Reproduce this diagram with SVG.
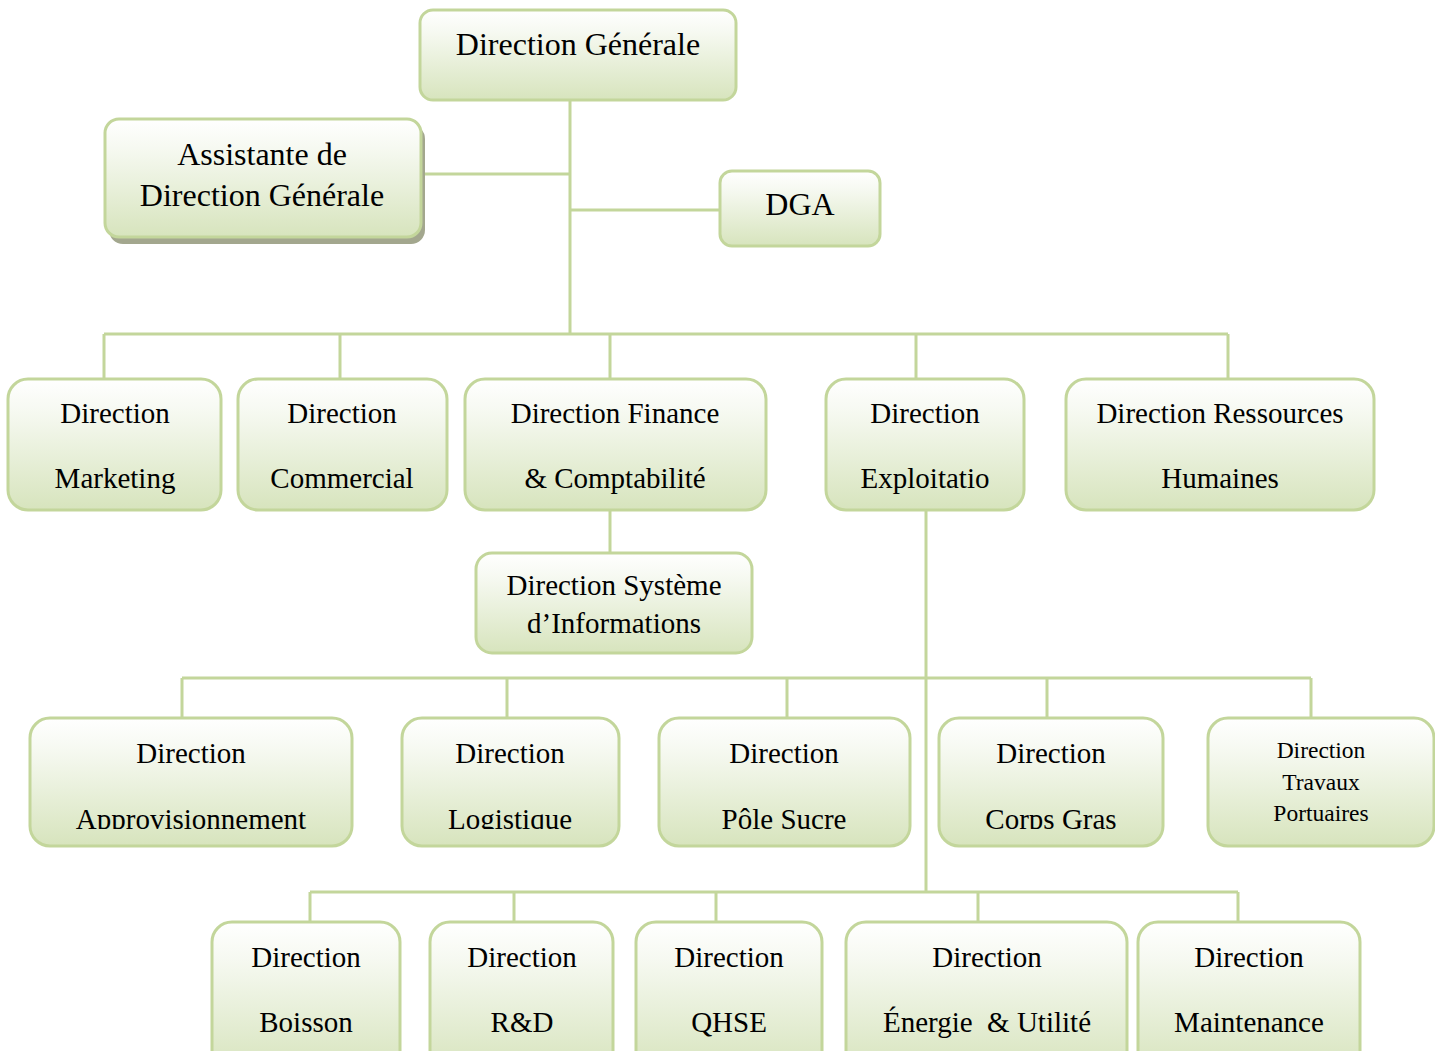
<svg xmlns="http://www.w3.org/2000/svg" width="1435" height="1051" viewBox="0 0 1435 1051">
<defs>
<linearGradient id="g" x1="0" y1="0" x2="0" y2="1">
<stop offset="0" stop-color="#ffffff"/>
<stop offset="0.25" stop-color="#f6f9f1"/>
<stop offset="1" stop-color="#d7e4bd"/>
</linearGradient>
<clipPath id="clip3"><rect x="0" y="700" width="1435" height="129"/></clipPath>
<style>
.box{fill:url(#g);stroke:#c3d69b;stroke-width:3}
.sh{fill:#a3a78e}
.t{font-family:"Liberation Serif","Times New Roman",serif;fill:#000;text-anchor:middle}
.big{font-size:32px}
.mid{font-size:29px}
.sm{font-size:23.5px}
.c{stroke:#c3d69b;stroke-width:3;fill:none}
</style>
</defs>
<rect width="1435" height="1051" fill="#ffffff"/>
<g id="connectors">
<path class="c" d="M570 100V334M421 174H570M570 210H720"/>
<path class="c" d="M104 334H1228M104 334V379M340 334V379M610 334V379M916 334V379M1228 334V379"/>
<path class="c" d="M610 510V553"/>
<path class="c" d="M926 510V892"/>
<path class="c" d="M182 678H1311M182 678V718M507 678V718M787 678V718M1047 678V718M1311 678V718"/>
<path class="c" d="M310 892H1238M310 892V922M514 892V922M716 892V922M978 892V922M1238 892V922"/>
</g>
<g id="n-dg"><rect class="box" x="420" y="10" width="316" height="90" rx="13"/><text class="t big" x="578" y="55">Direction Générale</text></g>
<g id="n-assistante"><rect class="sh" x="109" y="125" width="316" height="119" rx="14"/><rect class="box" x="105" y="119" width="316" height="118" rx="14"/><text class="t big" x="262" y="165">Assistante de</text><text class="t big" x="262" y="206">Direction Générale</text></g>
<g id="n-dga"><rect class="box" x="720" y="171" width="160" height="75" rx="12"/><text class="t big" x="800" y="215">DGA</text></g>
<g id="n-marketing"><rect class="box" x="8" y="379" width="213" height="131" rx="20"/><text class="t mid" x="115" y="423">Direction</text><text class="t mid" x="115" y="488">Marketing</text></g>
<g id="n-commercial"><rect class="box" x="238" y="379" width="209" height="131" rx="20"/><text class="t mid" x="342" y="423">Direction</text><text class="t mid" x="342" y="488">Commercial</text></g>
<g id="n-finance"><rect class="box" x="465" y="379" width="301" height="131" rx="20"/><text class="t mid" x="615" y="423">Direction Finance</text><text class="t mid" x="615" y="488">&amp; Comptabilité</text></g>
<g id="n-exploitation"><rect class="box" x="826" y="379" width="198" height="131" rx="20"/><text class="t mid" x="925" y="423">Direction</text><text class="t mid" x="925" y="488">Exploitatio</text></g>
<g id="n-rh"><rect class="box" x="1066" y="379" width="308" height="131" rx="20"/><text class="t mid" x="1220" y="423">Direction Ressources</text><text class="t mid" x="1220" y="488">Humaines</text></g>
<g id="n-si"><rect class="box" x="476" y="553" width="276" height="100" rx="16"/><text class="t mid" x="614" y="595">Direction Système</text><text class="t mid" x="614" y="633">d’Informations</text></g>
<g id="n-appro"><rect class="box" x="30" y="718" width="322" height="128" rx="20"/><text class="t mid" x="191" y="763">Direction</text><text class="t mid" x="191" y="829" clip-path="url(#clip3)">Approvisionnement</text></g>
<g id="n-logistique"><rect class="box" x="402" y="718" width="217" height="128" rx="20"/><text class="t mid" x="510" y="763">Direction</text><text class="t mid" x="510" y="829" clip-path="url(#clip3)">Logistique</text></g>
<g id="n-sucre"><rect class="box" x="659" y="718" width="251" height="128" rx="20"/><text class="t mid" x="784" y="763">Direction</text><text class="t mid" x="784" y="829" clip-path="url(#clip3)">Pôle Sucre</text></g>
<g id="n-corps"><rect class="box" x="939" y="718" width="224" height="128" rx="20"/><text class="t mid" x="1051" y="763">Direction</text><text class="t mid" x="1051" y="829" clip-path="url(#clip3)">Corps Gras</text></g>
<g id="n-travaux"><rect class="box" x="1208" y="718" width="226" height="128" rx="20"/><text class="t sm" x="1321" y="758">Direction</text><text class="t sm" x="1321" y="790">Travaux</text><text class="t sm" x="1321" y="821">Portuaires</text></g>
<g id="n-boisson"><rect class="box" x="212" y="922" width="188" height="150" rx="20"/><text class="t mid" x="306" y="967">Direction</text><text class="t mid" x="306" y="1032">Boisson</text></g>
<g id="n-rd"><rect class="box" x="430" y="922" width="183" height="150" rx="20"/><text class="t mid" x="522" y="967">Direction</text><text class="t mid" x="522" y="1032">R&amp;D</text></g>
<g id="n-qhse"><rect class="box" x="636" y="922" width="186" height="150" rx="20"/><text class="t mid" x="729" y="967">Direction</text><text class="t mid" x="729" y="1032">QHSE</text></g>
<g id="n-energie"><rect class="box" x="846" y="922" width="281" height="150" rx="20"/><text class="t mid" x="987" y="967">Direction</text><text class="t mid" x="987" y="1032" style="white-space:pre">Énergie  &amp; Utilité</text></g>
<g id="n-maintenance"><rect class="box" x="1138" y="922" width="222" height="150" rx="20"/><text class="t mid" x="1249" y="967">Direction</text><text class="t mid" x="1249" y="1032">Maintenance</text></g>
</svg>
